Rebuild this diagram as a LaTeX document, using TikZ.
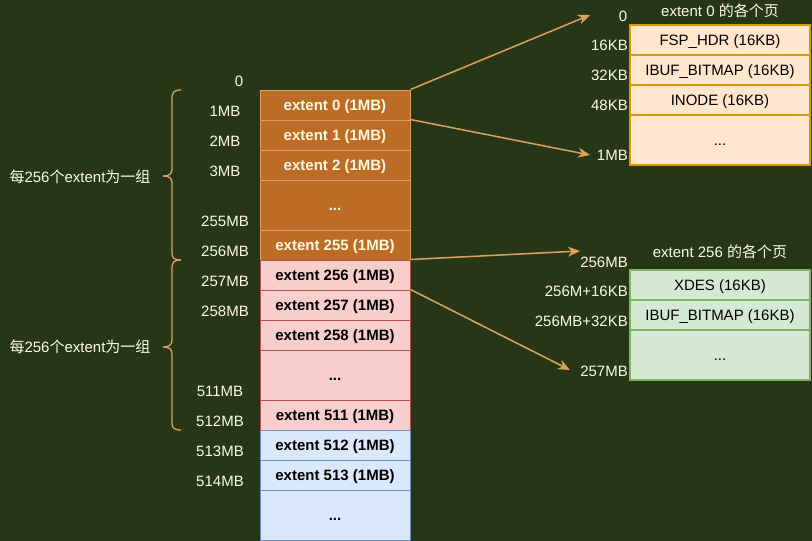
\documentclass[tikz,border=0pt]{standalone}
\usepackage{fontspec}
\setmainfont{Liberation Sans}
\newfontfamily\cjk{Noto Sans CJK SC}
\usetikzlibrary{arrows.meta}
\definecolor{bg}{HTML}{283618}
\definecolor{ofill}{HTML}{BC6C25}
\definecolor{ostroke}{HTML}{DDA15E}
\definecolor{otext}{HTML}{FEFAE0}
\definecolor{pfill}{HTML}{F8CECC}
\definecolor{pstroke}{HTML}{B85450}
\definecolor{bfill}{HTML}{DAE8FC}
\definecolor{bstroke}{HTML}{6C8EBF}
\definecolor{yfill}{HTML}{FFE6CC}
\definecolor{ystroke}{HTML}{D79B00}
\definecolor{gfill}{HTML}{D5E8D4}
\definecolor{gstroke}{HTML}{82B366}
\begin{document}
\begin{tikzpicture}[x=1pt,y=-1pt,
  font=\fontsize{15}{18}\selectfont,
  cell/.style={draw, rectangle, minimum width=150pt, minimum height=30pt, inner sep=0pt, line width=1pt, text height=10.8pt, text depth=0pt, font=\fontsize{15}{18}\selectfont\bfseries},
  ocell/.style={cell, fill=ofill, draw=ostroke, text=otext},
  pcell/.style={cell, fill=pfill, draw=pstroke},
  bcell/.style={cell, fill=bfill, draw=bstroke},
  page/.style={draw, rectangle, minimum width=180pt, minimum height=30pt, inner sep=0pt, line width=1.5pt, text height=10.8pt, text depth=0pt},
  ypage/.style={page, fill=yfill, draw=ystroke},
  gpage/.style={page, fill=gfill, draw=gstroke},
  lbl/.style={text=otext, inner sep=0pt},
  rlbl/.style={lbl, anchor=east},
  arr/.style={draw=ostroke, line width=1.5pt, -{Stealth[length=12pt,width=10pt]}},
  brace/.style={draw=ostroke, line width=1.3pt}
]
\useasboundingbox (0,0) rectangle (812,541);
\fill[bg] (0,0) rectangle (812,541);

% left column
\node[ocell] (e0) at (335,105) {extent 0 (1MB)};
\node[ocell] (e1) at (335,135) {extent 1 (1MB)};
\node[ocell] (e2) at (335,165) {extent 2 (1MB)};
\node[ocell, minimum height=50pt] (d1) at (335,205) {...};
\node[ocell] (e255) at (335,245) {extent 255 (1MB)};
\node[pcell] (e256) at (335,275) {extent 256 (1MB)};
\node[pcell] (e257) at (335,305) {extent 257 (1MB)};
\node[pcell] (e258) at (335,335) {extent 258 (1MB)};
\node[pcell, minimum height=50pt] (d2) at (335,375) {...};
\node[pcell] (e511) at (335,415) {extent 511 (1MB)};
\node[bcell] (e512) at (335,445) {extent 512 (1MB)};
\node[bcell] (e513) at (335,475) {extent 513 (1MB)};
\node[bcell, minimum height=50pt] (d3) at (335,515) {...};

% left labels
\node[lbl] (l0) at (239,81) {0};
\node[lbl] (l1) at (225,111) {1MB};
\node[lbl] (l2) at (225,141) {2MB};
\node[lbl] (l3) at (225,171) {3MB};
\node[lbl] (l255) at (225,221) {255MB};
\node[lbl] (l256) at (225,251) {256MB};
\node[lbl] (l257) at (225,281) {257MB};
\node[lbl] (l258) at (225,311) {258MB};
\node[lbl] (l511) at (220,391) {511MB};
\node[lbl] (l512) at (220,421) {512MB};
\node[lbl] (l513) at (220,451) {513MB};
\node[lbl] (l514) at (220,481) {514MB};

% braces
\draw[brace] (181,90) .. controls (174,90) and (172,92) .. (172,99) -- (172,169)
  .. controls (172,174) and (169,176) .. (163,176)
  .. controls (169,176) and (172,178) .. (172,183) -- (172,253)
  .. controls (172,258) and (174,260) .. (181,260);
\draw[brace] (181,260) .. controls (174,260) and (172,262) .. (172,269) -- (172,340)
  .. controls (172,345) and (169,347) .. (163,347)
  .. controls (169,347) and (172,349) .. (172,354) -- (172,423)
  .. controls (172,428) and (174,430) .. (181,430);
\node[lbl] (g1) at (80,177) {{\cjk 每}256{\cjk 个}extent{\cjk 为一组}};
\node[lbl] (g2) at (80,347) {{\cjk 每}256{\cjk 个}extent{\cjk 为一组}};

% extent 0 pages
\node[lbl] (t1) at (720,11) {extent 0 {\cjk 的各个页}};
\node[ypage] (p1) at (720,40) {FSP\_HDR (16KB)};
\node[ypage] (p2) at (720,70) {IBUF\_BITMAP (16KB)};
\node[ypage] (p3) at (720,100) {INODE (16KB)};
\node[ypage, minimum height=50pt] (p4) at (720,140) {...};
\node[lbl] (r0) at (623,16) {0};
\node[rlbl] (r16) at (628,45) {16KB};
\node[rlbl] (r32) at (628,75) {32KB};
\node[rlbl] (r48) at (628,105) {48KB};
\node[rlbl] (r1mb) at (628,155) {1MB};

% extent 256 pages
\node[lbl] (t2) at (720,252) {extent 256 {\cjk 的各个页}};
\node[gpage] (q1) at (720,285) {XDES (16KB)};
\node[gpage] (q2) at (720,315) {IBUF\_BITMAP (16KB)};
\node[gpage, minimum height=50pt] (q3) at (720,355) {...};
\node[rlbl] (s256) at (628,262) {256MB};
\node[rlbl] (s16) at (628,291) {256M+16KB};
\node[rlbl] (s32) at (628,321) {256MB+32KB};
\node[rlbl] (s257) at (628,371) {257MB};

% arrows
\coordinate (a0) at (590,15);
\coordinate (a1) at (590,155);
\coordinate (a2) at (580,251);
\coordinate (a3) at (570,370);
\draw[arr] (e0.north east) -- (a0);
\draw[arr] (e1.north east) -- (a1);
\draw[arr] (e256.north east) -- (a2);
\draw[arr] (e257.north east) -- (a3);
\end{tikzpicture}
\end{document}
